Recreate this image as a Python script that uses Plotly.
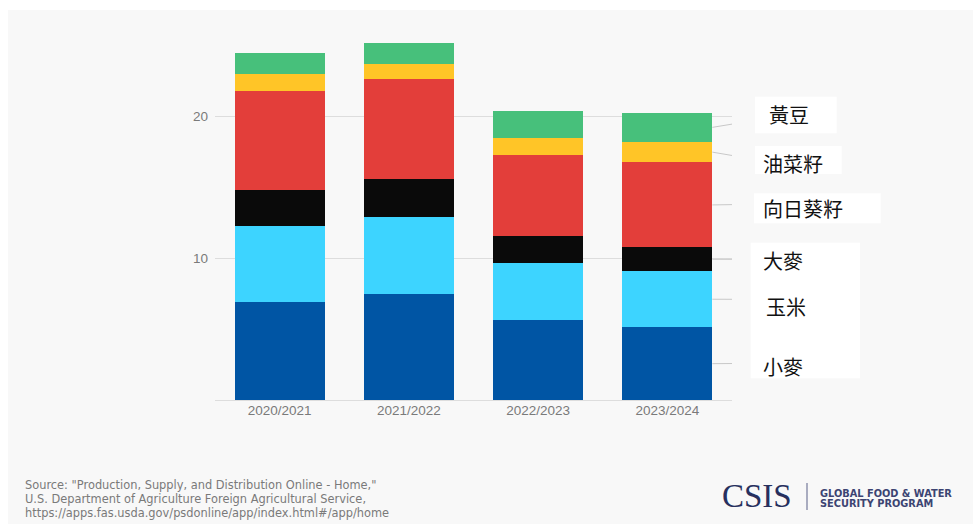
import plotly.graph_objects as go

# ---------------- data ----------------
years = ["2020/2021", "2021/2022", "2022/2023", "2023/2024"]
series_names = ["小麥", "玉米", "大麥", "向日葵籽", "油菜籽", "黃豆"]
wheat = [6.92, 7.44, 5.65, 5.12]
corn = [5.33, 5.47, 4.01, 3.96]
barley = [2.58, 2.65, 1.90, 1.67]
sunflower = [6.97, 7.04, 5.70, 5.99]
rapeseed = [1.17, 1.08, 1.23, 1.45]
soybean = [1.48, 1.44, 1.87, 2.04]
y_ticks = [10, 20]
colors = ["#0055A4", "#3DD4FF", "#0A0A0A", "#E33E3A", "#FFC527", "#47C07B"]
source_lines = [
    'Source: "Production, Supply, and Distribution Online - Home,"',
    'U.S. Department of Agriculture Foreign Agricultural Service,',
    'https://apps.fas.usda.gov/psdonline/app/index.html#/app/home',
]

series_values = [wheat, corn, barley, sunflower, rapeseed, soybean]

# ---------------- geometry helpers (pixel -> paper) ----------------
W, H = 973, 524
L, R, T, B = 215, 732, 31, 400  # plot area in pixels


def px(xp):
    return (xp - L) / (R - L)


def py(yp):
    return (B - yp) / (B - T)


fig = go.Figure()
for name, vals, col in zip(series_names, series_values, colors):
    fig.add_trace(go.Bar(x=years, y=vals, name=name, marker=dict(color=col, line=dict(width=0)),
                         hoverinfo="x+y+name"))

shapes = []
# light grey panel
shapes.append(dict(type="rect", xref="paper", yref="paper", x0=px(8), x1=px(973), y0=py(10), y1=py(524),
                   fillcolor="#F8F8F8", line=dict(width=0), layer="below"))

# connector lines from last bar segment midpoints to labels
last = len(years) - 1
bar_half = 0.348
label_end_y = [2.58, 7.09, 9.91, 13.79, 16.98, 19.68]
cum = 0
for vals, ey in zip(series_values, label_end_y):
    mid = cum + vals[last] / 2
    cum += vals[last]
    shapes.append(dict(type="line", xref="x", yref="y", x0=last + bar_half, x1=3.661, y0=mid, y1=ey,
                       line=dict(color="#C8C8C8", width=1), layer="above"))

# white label boxes
boxes = [
    (755, 836.7, 96.7, 133.3),
    (755, 841.7, 146, 174),
    (754, 880.7, 193.3, 223.3),
    (750.7, 860, 242.7, 378.3),
]
for x0, x1, y0, y1 in boxes:
    shapes.append(dict(type="rect", xref="paper", yref="paper", x0=px(x0), x1=px(x1), y0=py(y1), y1=py(y0),
                       fillcolor="#FFFFFF", line=dict(width=0), layer="above"))

# CSIS divider
shapes.append(dict(type="line", xref="paper", yref="paper", x0=px(807), x1=px(807), y0=py(510), y1=py(483),
                   line=dict(color="#5A6088", width=1)))

annotations = []
label_text_y = [366.7, 306, 260.7, 208.3, 163.5, 114]
label_text_x = [761, 764, 761, 761, 761, 767]
for name, xp, yp in zip(series_names, label_text_x, label_text_y):
    annotations.append(dict(text=name, xref="paper", yref="paper", x=px(xp), y=py(yp),
                            xanchor="left", yanchor="middle", showarrow=False,
                            font=dict(family="Noto Sans CJK TC", size=20, color="#111111")))

for line, yp in zip(source_lines, [485, 499.3, 513.3]):
    annotations.append(dict(
        text=line, xref="paper", yref="paper", x=px(23), y=py(yp), xanchor="left", yanchor="middle",
        align="left", showarrow=False, font=dict(family="DejaVu Sans", size=11.4, color="#7A7A7A")))

annotations.append(dict(text="CSIS", xref="paper", yref="paper", x=px(720), y=py(496),
                        xanchor="left", yanchor="middle", showarrow=False,
                        font=dict(family="Liberation Serif", size=33, color="#27305E")))
annotations.append(dict(text="<b>GLOBAL FOOD &amp; WATER</b>", xref="paper", yref="paper", x=px(818), y=py(493),
                        xanchor="left", yanchor="middle", showarrow=False,
                        font=dict(family="DejaVu Sans", size=9.8, color="#3C4472")))
annotations.append(dict(text="<b>SECURITY PROGRAM</b>", xref="paper", yref="paper", x=px(818), y=py(503.5),
                        xanchor="left", yanchor="middle", showarrow=False,
                        font=dict(family="DejaVu Sans", size=9.8, color="#3C4472")))

fig.update_layout(
    width=W, height=H,
    margin=dict(l=L, r=W - R, t=T, b=H - B, pad=0),
    barmode="stack", bargap=0.304,
    paper_bgcolor="#FFFFFF", plot_bgcolor="rgba(0,0,0,0)",
    showlegend=False,
    shapes=shapes, annotations=annotations,
    xaxis=dict(showgrid=False, showline=False, ticks="", range=[-0.5, 3.5],
               tickfont=dict(family="Liberation Sans", size=13.5, color="#7A7A7A")),
    yaxis=dict(range=[0, 26], tickvals=y_ticks, showgrid=True, gridcolor="#DDDDDD", gridwidth=1,
               zeroline=True, zerolinecolor="#DDDDDD", zerolinewidth=1, showline=False, ticks="",
               ticklabelstandoff=6,
               tickfont=dict(family="Liberation Sans", size=13.5, color="#7A7A7A")),
)

fig.write_html("out.html", config={"displayModeBar": False},
               post_script="document.body.style.margin='0';document.body.style.overflow='hidden';")
